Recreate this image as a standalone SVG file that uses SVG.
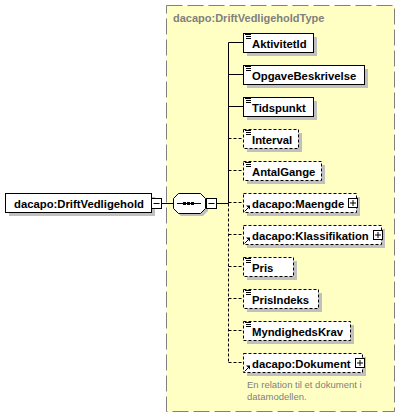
<svg xmlns="http://www.w3.org/2000/svg" width="413" height="418" viewBox="0 0 413 418">
<defs>
<style>
.lbl{font-family:"Liberation Sans",Arial,sans-serif;font-weight:bold;font-size:11.3px;fill:#000}
.ttl{font-family:"Liberation Sans",Arial,sans-serif;font-weight:bold;font-size:11px;fill:#808080}
.ann{font-family:"Liberation Sans",Arial,sans-serif;font-size:9.5px;fill:#808080}
.box{fill:#fff;stroke:#000;stroke-width:1}
.opt{fill:#fff;stroke:#000;stroke-width:1;stroke-dasharray:3,2}
.shd{fill:#c0c0c0}
.ln{stroke:#000;stroke-width:1;fill:none}
.dl{stroke:#000;stroke-width:1;fill:none;stroke-dasharray:3,2}
.ic{stroke:#000;stroke-width:1}
</style>
<g id="simple-icon"><path d="M2 1.5h6M3 3.5h5M3 5.5h5" class="ic"/></g>
<g id="ref-icon"><path d="M2.5 11.5l4-4" class="ic" stroke-width="1.3"/><path d="M4 5.5h4v4z" fill="#000"/></g>
<g id="plus"><rect x="0.5" y="0.5" width="9" height="9" class="box"/><path d="M2 5h6M5 2v6" class="ic"/></g>
<g id="minus"><rect x="0.5" y="0.5" width="10" height="10" class="box"/><path d="M2.5 5.5h6" class="ic"/></g>
</defs>
<rect width="413" height="418" fill="#fff"/>
<g id="type-box">
<rect x="166.5" y="5.5" width="228" height="406" fill="#ffffc4" stroke="#808080" stroke-dasharray="16,5"/>
<text class="ttl" x="173" y="22">dacapo:DriftVedligeholdType</text>
</g>
<g id="connectors">
<line class="ln" x1="162" y1="203.5" x2="173" y2="203.5"/>
<line class="ln" x1="217" y1="203.5" x2="228.5" y2="203.5"/>
<line class="ln" x1="228.5" y1="42.5" x2="228.5" y2="203.5"/>
<line class="dl" x1="228.5" y1="203.5" x2="228.5" y2="362.5"/>
<line class="ln" x1="228.5" y1="42.5" x2="243" y2="42.5"/>
<line class="ln" x1="228.5" y1="74.5" x2="243" y2="74.5"/>
<line class="ln" x1="228.5" y1="106.5" x2="243" y2="106.5"/>
<line class="dl" x1="228.5" y1="138.5" x2="243" y2="138.5"/>
<line class="dl" x1="228.5" y1="170.5" x2="243" y2="170.5"/>
<line class="dl" x1="228.5" y1="202.5" x2="243" y2="202.5"/>
<line class="dl" x1="228.5" y1="234.5" x2="243" y2="234.5"/>
<line class="dl" x1="228.5" y1="266.5" x2="243" y2="266.5"/>
<line class="dl" x1="228.5" y1="298.5" x2="243" y2="298.5"/>
<line class="dl" x1="228.5" y1="330.5" x2="243" y2="330.5"/>
<line class="dl" x1="228.5" y1="362.5" x2="243" y2="362.5"/>
</g>
<g id="DriftVedligehold">
<rect class="shd" x="9" y="197" width="146" height="19"/>
<rect class="box" x="5.5" y="193.5" width="146" height="19"/>
<text class="lbl" x="14" y="207.5">dacapo:DriftVedligehold</text>
<use href="#minus" x="151" y="198"/>
</g>
<g id="sequence">
<polygon class="shd" points="181,196 203,196 208,201 208,211 203,216 181,216 176,211 176,201"/>
<polygon class="box" points="178.5,193.5 200.5,193.5 205.5,198.5 205.5,208.5 200.5,213.5 178.5,213.5 173.5,208.5 173.5,198.5"/>
<line class="ln" x1="177" y1="203.5" x2="201" y2="203.5"/>
<rect x="183" y="202" width="3" height="3" fill="#000"/>
<rect x="187" y="202" width="3" height="3" fill="#000"/>
<rect x="191" y="202" width="3" height="3" fill="#000"/>
<use href="#minus" x="206" y="198"/>
</g>
<g id="AktivitetId">
<rect class="shd" x="247" y="37" width="70" height="19"/>
<rect class="box" x="243.5" y="33.5" width="70" height="19"/>
<use href="#simple-icon" x="243" y="33"/>
<text class="lbl" x="252" y="47.5">AktivitetId</text>
</g>
<g id="OpgaveBeskrivelse">
<rect class="shd" x="247" y="69" width="121" height="19"/>
<rect class="box" x="243.5" y="65.5" width="121" height="19"/>
<use href="#simple-icon" x="243" y="65"/>
<text class="lbl" x="252" y="79.5">OpgaveBeskrivelse</text>
</g>
<g id="Tidspunkt">
<rect class="shd" x="247" y="101" width="70" height="19"/>
<rect class="box" x="243.5" y="97.5" width="70" height="19"/>
<use href="#simple-icon" x="243" y="97"/>
<text class="lbl" x="252" y="111.5">Tidspunkt</text>
</g>
<g id="Interval">
<rect class="shd" x="247" y="133" width="55" height="19"/>
<rect class="opt" x="243.5" y="129.5" width="55" height="19"/>
<use href="#simple-icon" x="243" y="129"/>
<text class="lbl" x="252" y="143.5">Interval</text>
</g>
<g id="AntalGange">
<rect class="shd" x="247" y="165" width="78" height="19"/>
<rect class="opt" x="243.5" y="161.5" width="78" height="19"/>
<use href="#simple-icon" x="243" y="161"/>
<text class="lbl" x="252" y="175.5">AntalGange</text>
</g>
<g id="Maengde">
<rect class="shd" x="247" y="197" width="113" height="19"/>
<rect class="opt" x="243.5" y="193.5" width="113" height="19"/>
<use href="#ref-icon" x="242" y="200"/>
<text class="lbl" x="252" y="207.5">dacapo:Maengde</text>
<use href="#plus" x="348" y="198"/>
</g>
<g id="Klassifikation">
<rect class="shd" x="247" y="229" width="138" height="19"/>
<rect class="opt" x="243.5" y="225.5" width="138" height="19"/>
<use href="#ref-icon" x="242" y="232"/>
<text class="lbl" x="252" y="239.5">dacapo:Klassifikation</text>
<use href="#plus" x="373" y="230"/>
</g>
<g id="Pris">
<rect class="shd" x="247" y="261" width="50" height="19"/>
<rect class="opt" x="243.5" y="257.5" width="50" height="19"/>
<use href="#simple-icon" x="243" y="257"/>
<text class="lbl" x="252" y="271.5">Pris</text>
</g>
<g id="PrisIndeks">
<rect class="shd" x="247" y="293" width="75" height="19"/>
<rect class="opt" x="243.5" y="289.5" width="75" height="19"/>
<use href="#simple-icon" x="243" y="289"/>
<text class="lbl" x="252" y="303.5">PrisIndeks</text>
</g>
<g id="MyndighedsKrav">
<rect class="shd" x="247" y="325" width="107" height="19"/>
<rect class="opt" x="243.5" y="321.5" width="107" height="19"/>
<use href="#simple-icon" x="243" y="321"/>
<text class="lbl" x="252" y="335.5">MyndighedsKrav</text>
</g>
<g id="Dokument">
<rect class="shd" x="247" y="357" width="119" height="19"/>
<rect class="opt" x="243.5" y="353.5" width="119" height="19"/>
<use href="#ref-icon" x="242" y="360"/>
<text class="lbl" x="252" y="367.5">dacapo:Dokument</text>
<use href="#plus" x="355" y="358"/>
<text class="ann" x="247" y="388">En relation til et dokument i</text>
<text class="ann" x="247" y="400">datamodellen.</text>
</g>
</svg>
